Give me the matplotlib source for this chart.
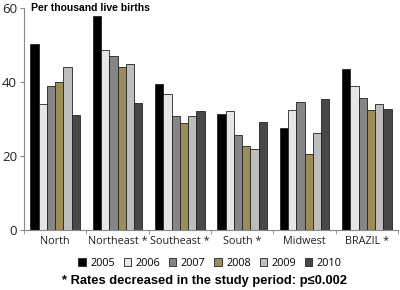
import matplotlib
matplotlib.use("Agg")
import matplotlib.pyplot as plt
import numpy as np
from matplotlib.patches import Patch

regions = ["North", "Northeast *", "Southeast *", "South *", "Midwest", "BRAZIL *"]
years = ["2005", "2006", "2007", "2008", "2009", "2010"]
rates = {
    "2005": [50.2, 58.0, 39.5, 31.4, 27.6, 43.4],
    "2006": [34.2, 48.7, 36.7, 32.2, 32.5, 38.9],
    "2007": [39.0, 47.0, 30.7, 25.8, 34.7, 35.6],
    "2008": [39.9, 44.0, 28.8, 22.7, 20.5, 32.4],
    "2009": [44.2, 44.8, 30.9, 21.9, 26.1, 34.2],
    "2010": [31.2, 34.3, 32.2, 29.2, 35.4, 32.6],
}
colors = ["#000000", "#e6e6e6", "#858585", "#9a8d5a", "#bdbdbd", "#484848"]

fig = plt.figure(figsize=(4, 2.9), dpi=100)
ax = fig.add_axes([0.06, 0.207, 0.935, 0.765])

x = np.arange(len(regions))
n = len(years)
w = 0.8 / n
for i, y in enumerate(years):
    ax.bar(x - 0.4 + w * (i + 0.5), rates[y], width=w, color=colors[i],
           edgecolor="#222222", linewidth=0.6, label=y)

ax.set_xlim(-0.5, len(regions) - 0.5)
ax.set_ylim(0, 60)
ax.set_yticks([0, 20, 40, 60])
ax.tick_params(axis="y", labelsize=9.5, length=3, color="#888888", pad=2, labelcolor="#222222")
ax.set_xticks(x)
ax.set_xticklabels(regions, fontsize=7.8, family="Open Sans", color="#222222")
ax.tick_params(axis="x", length=0, pad=4)
ax.set_xticks(np.arange(len(regions) + 1) - 0.5, minor=True)
ax.tick_params(axis="x", which="minor", length=3, color="#888888")
for lab in ax.get_yticklabels():
    lab.set_family("Open Sans")
for s in ["top", "right"]:
    ax.spines[s].set_visible(False)
for s in ["left", "bottom"]:
    ax.spines[s].set_color("#888888")

fig.text(0.078, 0.972, "Per thousand live births", fontsize=7.5, fontweight="bold",
         family="Liberation Sans", va="center", ha="left")

handles = [Patch(facecolor=colors[i], edgecolor="#222222", linewidth=0.6) for i in range(n)]
fig.legend(handles, years, loc="center", bbox_to_anchor=(0.525, 0.093), ncol=6,
           frameon=False, handlelength=0.7, handleheight=0.7,
           handletextpad=0.4, columnspacing=0.8, prop={"family": "Open Sans", "size": 7.8})

fig.text(0.51, 0.032, "* Rates decreased in the study period: p\u22640.002", fontsize=9.3,
         fontweight="bold", family="Liberation Sans", ha="center", va="center")

fig.savefig("out.png", dpi=100)
